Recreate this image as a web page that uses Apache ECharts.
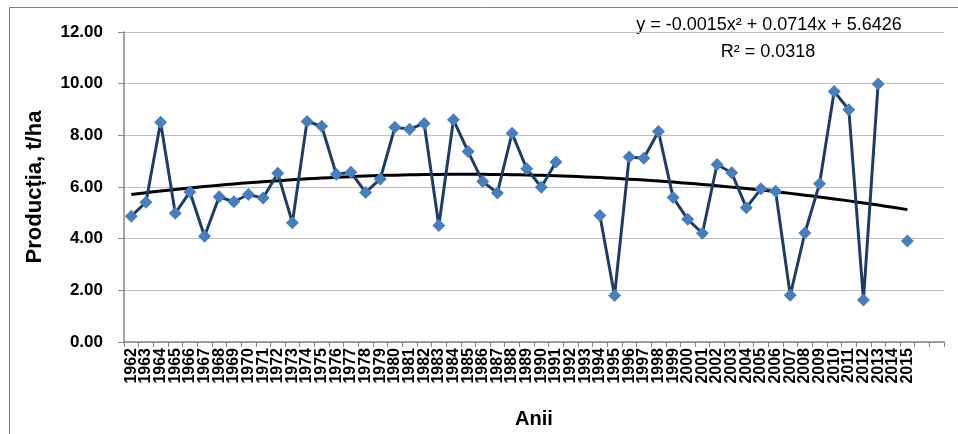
<!DOCTYPE html>
<html>
<head>
<meta charset="utf-8">
<script src="https://cdn.jsdelivr.net/npm/echarts@6/dist/echarts.min.js"></script>
<style>
  html, body { margin: 0; padding: 0; background: #fff; }
  #chart { width: 958px; height: 434px; }
</style>
</head>
<body>
<div id="chart"></div>
<script>
// years on the category axis (two empty slots at the end, as in the original sheet)
var years = ['1962', '1963', '1964', '1965', '1966', '1967', '1968', '1969', '1970', '1971',
  '1972', '1973', '1974', '1975', '1976', '1977', '1978', '1979', '1980', '1981',
  '1982', '1983', '1984', '1985', '1986', '1987', '1988', '1989', '1990', '1991',
  '1992', '1993', '1994', '1995', '1996', '1997', '1998', '1999', '2000', '2001',
  '2002', '2003', '2004', '2005', '2006', '2007', '2008', '2009', '2010', '2011',
  '2012', '2013', '2014', '2015', '', ''];

// yield, t/ha (null = no data)
var productia = [4.87, 5.41, 8.51, 4.98, 5.81, 4.09, 5.62, 5.43, 5.71, 5.57,
  6.53, 4.62, 8.54, 8.35, 6.49, 6.57, 5.79, 6.31, 8.31, 8.24,
  8.46, 4.51, 8.60, 7.37, 6.21, 5.77, 8.08, 6.71, 5.99, 6.97,
  null, null, 4.90, 1.80, 7.16, 7.11, 8.15, 5.59, 4.75, 4.21,
  6.87, 6.55, 5.20, 5.93, 5.84, 1.81, 4.22, 6.13, 9.70, 8.99,
  1.63, 9.99, null, 3.91, null, null];

// polynomial trendline coefficients as printed on the chart (a2, a1, a0)
var trendCoef = [-0.0015, 0.0714, 5.6426];
var trendYears = 54; // 1962..2015

var yTicks = [0, 2, 4, 6, 8, 10, 12];

var trend = years.map(function (y, i) {
  if (i >= trendYears) return null;
  var x = i + 1;
  return +(trendCoef[0] * x * x + trendCoef[1] * x + trendCoef[2]).toFixed(4);
});

var myChart = echarts.init(document.getElementById('chart'));
var axisGray = '#868686';

var option = {
  backgroundColor: '#fff',
  animation: false,
  grid: {
    left: 124,
    right: 14,
    top: 32,
    bottom: 91
  },
  graphic: [{
    type: 'polyline',
    shape: { points: [[9.5, 434], [9.5, 7.5], [958, 7.5]] },
    style: { stroke: '#7f7f7f', lineWidth: 1, fill: null }
  }, {
    type: 'text',
    x: 769,
    y: 25,
    style: {
      text: 'y = -0.0015x² + 0.0714x + 5.6426',
      font: '18px "Liberation Sans"',
      fill: '#000',
      align: 'center',
      verticalAlign: 'middle'
    }
  }, {
    type: 'text',
    x: 768,
    y: 52,
    style: {
      text: 'R² = 0.0318',
      font: '18px "Liberation Sans"',
      fill: '#000',
      align: 'center',
      verticalAlign: 'middle'
    }
  }],
  xAxis: {
    type: 'category',
    data: years,
    boundaryGap: true,
    name: 'Anii',
    nameLocation: 'middle',
    nameGap: 67,
    nameTextStyle: {
      color: '#000',
      fontSize: 20,
      fontWeight: 'bold',
      fontFamily: 'Liberation Sans'
    },
    axisLine: { lineStyle: { color: axisGray, width: 1.5 } },
    axisTick: {
      show: true,
      interval: 0,
      length: 5,
      lineStyle: { color: axisGray }
    },
    axisLabel: {
      interval: 0,
      rotate: 90,
      margin: 6,
      color: '#000',
      fontSize: 16,
      fontWeight: 'bold',
      fontFamily: 'Liberation Sans'
    },
    splitLine: { show: false }
  },
  yAxis: {
    type: 'value',
    min: yTicks[0],
    max: yTicks[yTicks.length - 1],
    interval: 2,
    name: 'Producția, t/ha',
    nameLocation: 'middle',
    nameGap: 78,
    nameTextStyle: {
      color: '#000',
      fontSize: 22,
      fontWeight: 'bold',
      fontFamily: 'Liberation Sans'
    },
    axisLine: { show: true, lineStyle: { color: axisGray, width: 1.5 } },
    axisTick: { show: true, length: 6, lineStyle: { color: axisGray } },
    axisLabel: {
      margin: 21,
      color: '#000',
      fontSize: 17,
      fontWeight: 'bold',
      fontFamily: 'Liberation Sans',
      formatter: function (v) { return v.toFixed(2); }
    },
    splitLine: { show: true, lineStyle: { color: '#bfbfbf', width: 1 } }
  },
  series: [{
    name: 'Producția',
    type: 'line',
    data: productia,
    connectNulls: false,
    symbol: 'diamond',
    symbolSize: 13,
    lineStyle: { color: '#1f3d63', width: 3 },
    itemStyle: { color: '#4a7ebb' },
    z: 3
  }, {
    name: 'Trend',
    type: 'line',
    data: trend,
    smooth: true,
    symbol: 'none',
    lineStyle: { color: '#000', width: 3 },
    z: 2
  }]
};

myChart.setOption(option, true);
</script>
</body>
</html>
